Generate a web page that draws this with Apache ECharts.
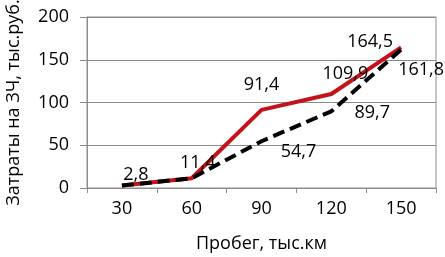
<!DOCTYPE html>
<html><head><meta charset="utf-8">
<script src="https://cdn.jsdelivr.net/npm/echarts@6/dist/echarts.min.js"></script>
<style>html,body{margin:0;padding:0;background:#fff}#c{width:445px;height:257px}</style>
</head><body><div id="c"></div>
<script>
const categories = ['30', '60', '90', '120', '150'];
const redValues = [2.8, 11.4, 91.4, 109.9, 164.5];
const blackValues = [2.8, 11.4, 54.7, 89.7, 161.8];
const yTicks = [0, 50, 100, 150, 200];
const redLabelShown = [true, true, true, true, true];
const blackLabelShown = [false, false, true, true, true];
const redLabelOffsets = [[14, 4], [6, -1], [0, -10], [14, -6], [-31, 9]];
const blackLabelOffsets = [[0, 0], [0, 0], [37, 25], [41, 16], [20, 35]];

const FONT = 'Open Sans';
const FS = 18;
const fmt = v => String(v).replace('.', ',');
function mk(values, shown, offs) {
  return values.map((v, i) => ({
    value: v,
    label: { show: shown[i], offset: offs[i] }
  }));
}
const chart = echarts.init(document.getElementById('c'), null, { renderer: 'canvas' });
chart.setOption({
  animation: false,
  grid: { left: 87, right: 9, top: 17, bottom: 69, outerBoundsMode: 'none', containLabel: false,
          show: true, borderColor: '#8c8c8c', borderWidth: 1 },
  xAxis: {
    type: 'category', data: categories, boundaryGap: true,
    name: 'Пробег, тыс.км', nameLocation: 'middle', nameGap: 47,
    nameTextStyle: { fontFamily: FONT, fontSize: FS, color: '#000' },
    axisLine: { lineStyle: { color: '#8c8c8c', width: 1 } },
    axisTick: { show: true, length: 5, lineStyle: { color: '#8c8c8c' } },
    axisLabel: { fontFamily: FONT, fontSize: FS, color: '#000', margin: 12 }
  },
  yAxis: {
    type: 'value', min: yTicks[0], max: yTicks[yTicks.length - 1], interval: 50,
    name: 'Затраты на ЗЧ, тыс.руб.', nameLocation: 'middle', nameGap: 64,
    nameTextStyle: { fontFamily: FONT, fontSize: FS, color: '#000' },
    axisLine: { show: true, lineStyle: { color: '#8c8c8c', width: 1 } },
    axisTick: { show: true, length: 7, lineStyle: { color: '#8c8c8c' } },
    splitLine: { lineStyle: { color: '#8c8c8c', width: 1 } },
    axisLabel: { fontFamily: FONT, fontSize: FS, color: '#000', margin: 18 }
  },
  series: [
    {
      type: 'line', data: mk(redValues, redLabelShown, redLabelOffsets),
      symbol: 'circle', symbolSize: 1, showSymbol: true, itemStyle: { color: 'rgba(0,0,0,0)' }, z: 2,
      lineStyle: { color: '#c4121a', width: 4 },
      label: { show: true, position: 'top', formatter: p => fmt(p.value), fontFamily: FONT, fontSize: FS, color: '#000' }
    },
    {
      type: 'line', data: mk(blackValues, blackLabelShown, blackLabelOffsets),
      symbol: 'circle', symbolSize: 1, showSymbol: true, itemStyle: { color: 'rgba(0,0,0,0)' }, z: 3,
      lineStyle: { color: '#000', width: 4, type: [12, 6] },
      label: { show: true, position: 'top', formatter: p => fmt(p.value), fontFamily: FONT, fontSize: FS, color: '#000' }
    }
  ]
});
</script></body></html>
